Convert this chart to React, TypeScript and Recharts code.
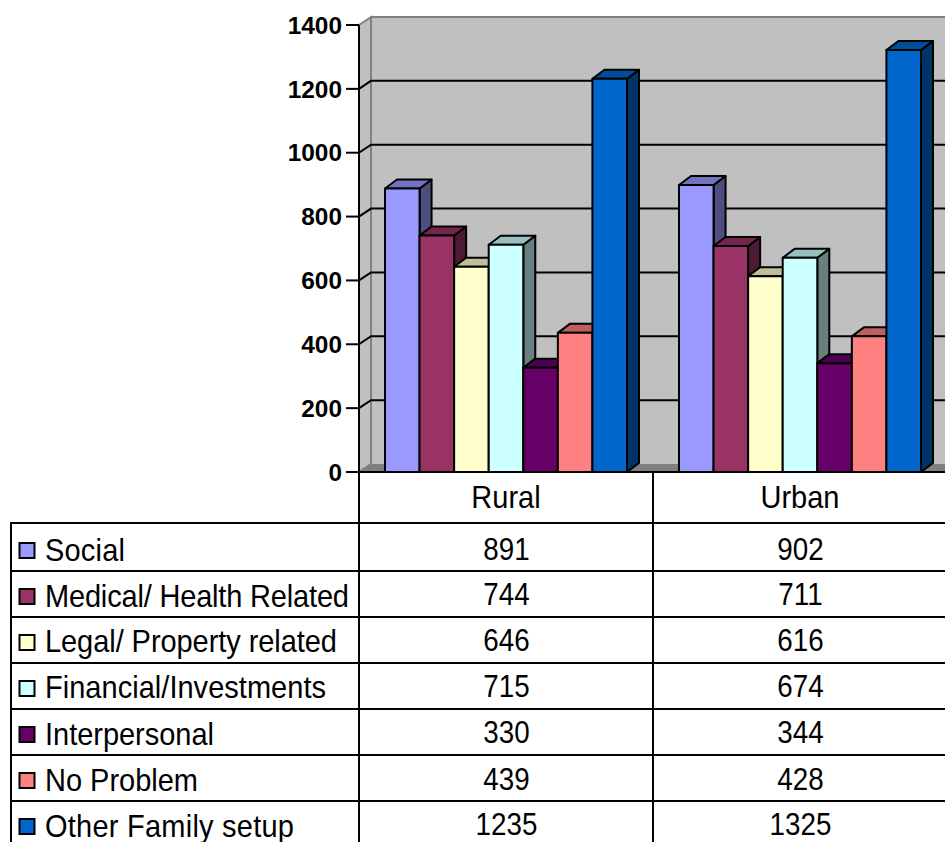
import React from 'react';
import { BarChart, Bar, XAxis, YAxis, CartesianGrid, ReferenceArea } from 'recharts';

// Survey counts per area, one small list per problem type.
const categories = ['Rural', 'Urban'];
const social = [891, 902];
const medical = [744, 711];
const legal = [646, 616];
const financial = [715, 674];
const interpersonal = [330, 344];
const noProblem = [439, 428];
const otherFamily = [1235, 1325];

const yTicks = [0, 200, 400, 600, 800, 1000, 1200, 1400];

const seriesNames = [
  'Social',
  'Medical/ Health Related',
  'Legal/ Property related',
  'Financial/Investments',
  'Interpersonal',
  'No Problem',
  'Other Family setup',
];
const seriesValues = [social, medical, legal, financial, interpersonal, noProblem, otherFamily];
const seriesColors = ['#9999FF', '#993366', '#FFFFCC', '#CCFFFF', '#660066', '#FF8080', '#0066CC'];

const tableRows = categories.map((name, c) => {
  const row: Record<string, string | number> = { name };
  seriesNames.forEach((s, i) => {
    row[s] = seriesValues[i][c];
  });
  return row;
});

const FONT = '"Liberation Sans", Arial, sans-serif';
const DX = 12;
const WALL_DY = 8;
const BAR_DY = 9;
const LINE = 2;
const TOP_INSET = 1;
const WALL = '#C0C0C0';
const WALL_EDGE = '#808080';

function shade(hex: string, k: number) {
  const n = parseInt(hex.slice(1), 16);
  const ch = (v: number) => Math.round(v * k);
  return `rgb(${ch((n >> 16) & 255)},${ch((n >> 8) & 255)},${ch(n & 255)})`;
}

// Table text is set slightly taller than wide.
function TableText(props: {
  x: number;
  y: number;
  anchor?: 'start' | 'middle';
  size?: number;
  stretch?: number;
  fit?: number;
  children: React.ReactNode;
}) {
  const { x, y, anchor = 'start', size = 29, stretch = 1.09, fit, children } = props;
  return (
    <text
      transform={`translate(${x} ${y}) scale(1 ${stretch})`}
      textAnchor={anchor}
      fontFamily={FONT}
      fontSize={size}
      fill="#000"
      textLength={fit}
      lengthAdjust={fit ? 'spacing' : undefined}
    >
      {children}
    </text>
  );
}

// Extruded column: front, top and right faces.
function Column(props: any) {
  const { x, width, fill } = props;
  const y = props.y + TOP_INSET;
  const height = props.height - TOP_INSET;
  const w = width + 0.57;
  const r = x + w;
  const b = y + height;
  return (
    <g stroke="#000" strokeWidth={LINE} strokeLinejoin="round">
      <path
        d={`M${r} ${y}L${r + DX} ${y - BAR_DY}L${r + DX} ${b - BAR_DY}L${r} ${b}Z`}
        fill={shade(fill, 0.5)}
      />
      <path
        d={`M${x} ${y}L${x + DX} ${y - BAR_DY}L${r + DX} ${y - BAR_DY}L${r} ${y}Z`}
        fill={shade(fill, 0.75)}
      />
      <rect x={x} y={y} width={w} height={height} fill={fill} />
    </g>
  );
}

// Back wall, side wall and floor of the plot box.
function Walls(props: any) {
  const { x, y, width, height } = props;
  const b = y + height;
  const r = x + width;
  return (
    <g>
      <rect x={x + DX} y={y - WALL_DY} width={width} height={height} fill={WALL} />
      <path
        d={`M${x} ${y}L${x + DX} ${y - WALL_DY}L${x + DX} ${b - WALL_DY}L${x} ${b}Z`}
        fill={WALL}
        stroke={WALL_EDGE}
        strokeWidth={LINE}
      />
      <path
        d={`M${x} ${b}L${x + DX} ${b - WALL_DY}L${r + DX} ${b - WALL_DY}L${r} ${b}Z`}
        fill={WALL_EDGE}
      />
      <path
        d={`M${x + DX} ${y - WALL_DY}L${r + DX} ${y - WALL_DY}`}
        stroke={WALL_EDGE}
        strokeWidth={LINE}
        fill="none"
      />
    </g>
  );
}

// Gridline on the back wall with its diagonal run down to the axis.
function GridRun(props: any) {
  const { x1, x2, y1, y, height, index } = props;
  if (Math.abs(y1 - y) < 1 || Math.abs(y1 - (y + height)) < 1) return <g key={index} />;
  return (
    <g key={index} stroke="#000" strokeWidth={LINE} fill="none">
      <path d={`M${x1} ${y1}L${x1 + DX} ${y1 - WALL_DY}L${x2 + DX} ${y1 - WALL_DY}`} />
    </g>
  );
}

function CategoryTick(props: any) {
  const { x, payload } = props;
  return (
    <TableText x={x} y={508} anchor="middle">
      {payload.value}
    </TableText>
  );
}

const rowLines = [523, 571, 617, 663, 709, 755, 801];
const labelBaselines = [561, 607, 652, 698, 745, 791, 837];
const labelWidths = [80, 304, 292, 281, 169, 153, 249];
const valueBaselines = [559.5, 605, 651, 697, 743, 789.5, 835];
const keyCenters = [550.5, 596.5, 642.5, 688.5, 734.5, 780.5, 826.5];
const colCenters = [506, 800];
const colLines = [359, 653];

// Data table under the plot, with the series keys in its first column.
function DataTable() {
  return (
    <svg
      width={945}
      height={842}
      style={{ position: 'absolute', left: 0, top: 0, pointerEvents: 'none' }}
    >
      {rowLines.map((y) => (
        <line key={y} x1={11} x2={945} y1={y} y2={y} stroke="#000" strokeWidth={LINE} />
      ))}
      <line x1={11} x2={11} y1={522} y2={842} stroke="#000" strokeWidth={LINE} />
      {colLines.map((x) => (
        <line key={x} x1={x} x2={x} y1={472} y2={842} stroke="#000" strokeWidth={LINE} />
      ))}
      {seriesNames.map((name, i) => (
        <g key={name}>
          <rect
            x={19.5}
            y={keyCenters[i] - 7.5}
            width={15}
            height={15}
            fill={seriesColors[i]}
            stroke="#000"
            strokeWidth={LINE}
          />
          <TableText x={45} y={labelBaselines[i]} fit={labelWidths[i]}>
            {name}
          </TableText>
          {categories.map((c, k) => (
            <TableText
              key={c}
              x={colCenters[k] + 0.5}
              y={valueBaselines[i]}
              anchor="middle"
              size={27.8}
              stretch={1.12}
            >
              {seriesValues[i][k]}
            </TableText>
          ))}
        </g>
      ))}
    </svg>
  );
}

export default function App() {
  return (
    <div
      style={{
        position: 'absolute',
        left: 0,
        top: 0,
        width: 945,
        height: 842,
        overflow: 'hidden',
        background: '#fff',
      }}
    >
      <BarChart
        width={960}
        height={842}
        data={tableRows}
        margin={{ top: 25, right: 13, bottom: 319, left: 0 }}
        barCategoryGap={26}
        barGap={0.57}
      >
        <ReferenceArea y1={0} y2={1400} shape={Walls} ifOverflow="visible" zIndex={-200} />
        <CartesianGrid vertical={false} horizontal={GridRun} horizontalValues={yTicks} />
        <XAxis
          dataKey="name"
          height={51}
          tickLine={false}
          axisLine={{ stroke: '#000', strokeWidth: LINE }}
          tick={CategoryTick}
          interval={0}
        />
        <YAxis
          width={359}
          domain={[0, 1400]}
          ticks={yTicks}
          interval={0}
          tickSize={13}
          tickMargin={4}
          axisLine={{ stroke: '#000', strokeWidth: LINE }}
          tickLine={{ stroke: '#000', strokeWidth: LINE }}
          tick={{ fontFamily: FONT, fontSize: 24.4, fontWeight: 700, fill: '#000' }}
        />
        {seriesNames.map((name, i) => (
          <Bar
            key={name}
            dataKey={name}
            fill={seriesColors[i]}
            shape={Column}
            isAnimationActive={false}
          />
        ))}
      </BarChart>
      <DataTable />
    </div>
  );
}
